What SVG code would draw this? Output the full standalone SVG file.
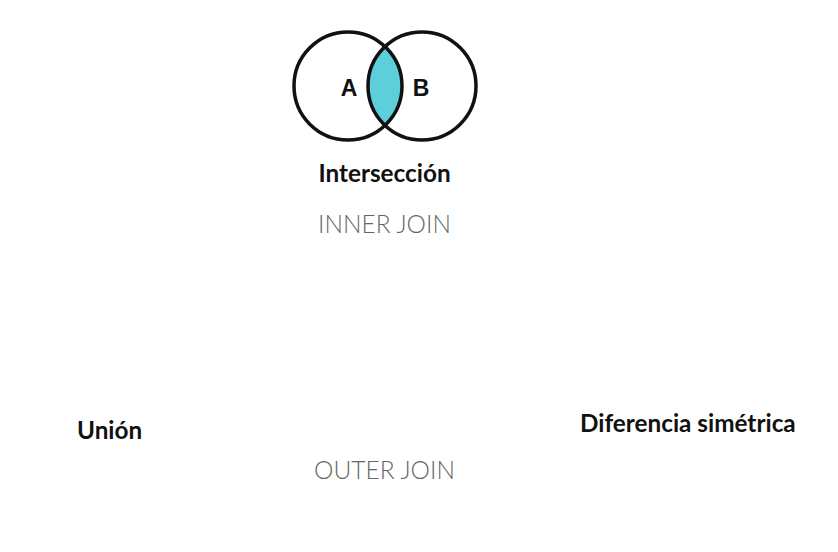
<svg xmlns="http://www.w3.org/2000/svg" width="838" height="552" viewBox="0 0 838 552">
<style>
.title{font-family:Lato,"Liberation Sans",sans-serif;font-weight:700;font-size:24.3px;fill:#111}
.sub{font-family:Lato,"Liberation Sans",sans-serif;font-weight:300;font-size:24.5px;fill:#666}
.set{font-family:"Liberation Sans",Arial,sans-serif;font-weight:700;font-size:23px;fill:#111}
.ring{fill:none;stroke:#111;stroke-width:3.5}
</style>
<defs>
<clipPath id="clipA"><circle cx="348" cy="86" r="54"/></clipPath>
</defs>
<rect width="838" height="552" fill="#fff"/>
<g id="venn">
<circle cx="422" cy="86" r="54" fill="#5ccfda" clip-path="url(#clipA)"/>
<circle class="ring" cx="348" cy="86" r="54"/>
<circle class="ring" cx="422" cy="86" r="54"/>
<text class="set" x="349" y="96" text-anchor="middle">A</text>
<text class="set" x="421" y="96" text-anchor="middle">B</text>
</g>
<g id="interseccion">
<text class="title" x="384.5" y="182" text-anchor="middle">Intersección</text>
<text class="sub" x="384.5" y="233" text-anchor="middle">INNER JOIN</text>
</g>
<g id="union">
<text class="title" x="77" y="439">Unión</text>
<text class="sub" x="384.5" y="479" text-anchor="middle">OUTER JOIN</text>
</g>
<g id="diferencia">
<text class="title" x="580" y="432">Diferencia simétrica</text>
</g>
<g id="connectors"/>
</svg>
